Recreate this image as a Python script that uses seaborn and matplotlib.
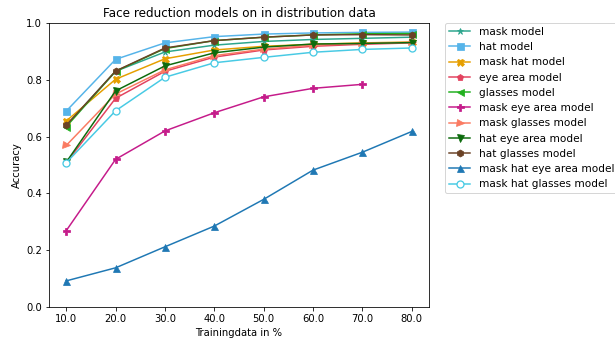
import matplotlib
matplotlib.use("Agg")
import matplotlib.pyplot as plt
import seaborn as sns
import pandas as pd

x_values = [10, 20, 30, 40, 50, 60, 70, 80]

model_names = ["mask model", "hat model", "mask hat model", "eye area model", "glasses model",
               "mask eye area model", "mask glasses model", "hat eye area model",
               "hat glasses model", "mask hat eye area model", "mask hat glasses model"]

mask_model = [0.640, 0.830, 0.898, 0.922, 0.935, 0.942, 0.946, 0.950]
hat_model = [0.690, 0.872, 0.930, 0.952, 0.961, 0.965, 0.967, 0.968]
mask_hat_model = [0.655, 0.802, 0.874, 0.905, 0.918, 0.925, 0.930, 0.933]
eye_area_model = [0.508, 0.735, 0.830, 0.880, 0.905, 0.918, 0.925, 0.930]
glasses_model = [0.635, 0.830, 0.910, 0.938, 0.950, 0.958, 0.962, 0.963]
mask_eye_area_model = [0.269, 0.520, 0.620, 0.684, 0.740, 0.770, 0.784]
mask_glasses_model = [0.569, 0.750, 0.835, 0.885, 0.908, 0.922, 0.928, 0.932]
hat_eye_area_model = [0.510, 0.761, 0.849, 0.895, 0.915, 0.926, 0.928, 0.931]
hat_glasses_model = [0.640, 0.831, 0.912, 0.938, 0.950, 0.958, 0.959, 0.958]
mask_hat_eye_area_model = [0.092, 0.138, 0.212, 0.285, 0.379, 0.482, 0.545, 0.618]
mask_hat_glasses_model = [0.508, 0.691, 0.809, 0.860, 0.879, 0.897, 0.907, 0.912]

series = [mask_model, hat_model, mask_hat_model, eye_area_model, glasses_model,
          mask_eye_area_model, mask_glasses_model, hat_eye_area_model,
          hat_glasses_model, mask_hat_eye_area_model, mask_hat_glasses_model]

colors = ["#2ca58d", "#56b4e9", "#e69f00", "#e3425f", "#21b01f", "#c51b8a",
          "#fa7b62", "#0d6b0d", "#6b4226", "#1f78b4", "#48cae4"]
markers = ["*", "s", "X", "p", "<", "P", ">", "v", "h", "^", "o"]

DPI = 72
fig, ax = plt.subplots(figsize=(615 / DPI, 343 / DPI), dpi=DPI)
for name, vals, c, m in zip(model_names, series, colors, markers):
    df = pd.DataFrame({"x": x_values[:len(vals)], "y": vals})
    if m == "o":
        kw = dict(markerfacecolor="white", markeredgecolor=c, markeredgewidth=1.3)
    else:
        kw = dict(markeredgecolor=c)
    sns.lineplot(data=df, x="x", y="y", color=c, marker=m, markersize=7,
                 linewidth=1.5, label=name, ax=ax, **kw)

ax.set_ylim(0, 1.0)
ax.set_xticks(x_values)
ax.set_xticklabels([f"{v:.1f}" for v in x_values])
ax.set_xlabel("Trainingdata in %")
ax.set_ylabel("Accuracy")
ax.set_title("Face reduction models on in distribution data")
ax.legend(loc="upper left", bbox_to_anchor=(1.029, 1.02), fontsize=10.5)
fig.subplots_adjust(left=49 / 615, right=429 / 615, top=1 - 23 / 343, bottom=1 - 307 / 343)
fig.savefig("out.png", dpi=DPI)
